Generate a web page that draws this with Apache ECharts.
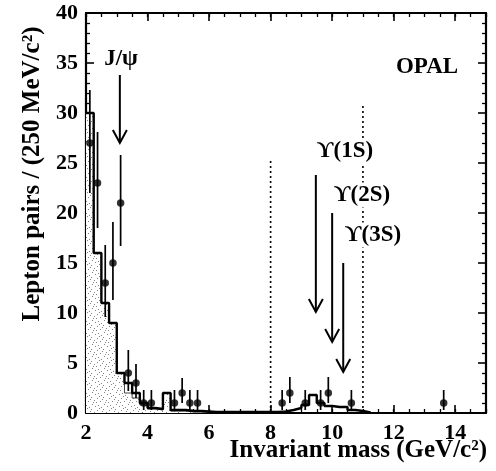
<!DOCTYPE html>
<html>
<head>
<meta charset="utf-8">
<script src="https://cdn.jsdelivr.net/npm/echarts@6/dist/echarts.min.js"></script>
<style>html,body{margin:0;padding:0;background:#fff;}#c{width:496px;height:471px;}</style>
</head>
<body>
<div id="c"></div>
<script>
// ---- data ----
const binWidth = 0.25;
const histStart = 2.0;
// open (thick line) histogram, bins of 250 MeV from 2.0 GeV
const openHist = [30,16,11,9,4,3,2,1,0.5,0.4,2,0.3,0.3,0.2,0.2,0.15,
  0.1,0.1,0.1,0.1,0.1,0.1,0.1,0.1,0.1,
  0.15,0.3,0.5,0.8,1.8,1.0,0.7,0.6,0.6,0.3,0.2,0.05];
// shaded (stippled) histogram, bins of 250 MeV from 2.0 GeV
const shadedHist = [30,16,11,9,4,2,1.5,0.8,0.4,0.3,2,0.2,0.2,0.1,0.1,0.1];
// data points
const ptX = [2.125,2.375,2.625,2.875,3.125,3.375,3.625,3.875,4.125,4.875,5.125,5.375,5.625,8.375,8.625,9.125,9.625,9.875,10.625,13.625];
const ptY = [27,23,13,15,21,4,3,1,1,1,2,1,1,1,2,1,1,2,1,1];
const errUp = [5.3,5.1,3.8,4.1,4.8,2.3,1.9,1.3,1.3,1.3,1.5,1.3,1.3,1.3,1.6,1.3,1.3,1.6,1.3,1.3];
const errDn = [5.0,4.5,3.4,3.7,4.3,1.8,1.5,0.7,0.7,0.7,1.0,0.7,0.7,0.7,1.0,0.7,0.7,1.0,0.7,0.7];
// resonance arrows
const arrowX = [3.1, 9.47, 10.0, 10.36];
const arrowTop = [33.8, 23.8, 20.0, 15.0];
const arrowTip = [27.0, 10.1, 7.1, 4.1];
// dotted window lines
const windowX = [8, 11];
const windowTop = [25.3, 30.8];
// axis ticks
const xTicks = {min: 2, max: 15, major: 2, minor: 0.5};
const yTicks = {min: 0, max: 40, major: 5, minorSplit: 5};

// ---- build ----
function stepData(vals) {
  const d = vals.map((v, i) => [histStart + i * binWidth, v]);
  d.push([histStart + vals.length * binWidth, vals[vals.length - 1]]);
  return d;
}
function stipple() {
  const c = document.createElement('canvas');
  c.width = 12; c.height = 12;
  const g = c.getContext('2d');
  g.fillStyle = '#ffffff'; g.fillRect(0, 0, 12, 12);
  g.fillStyle = 'rgba(80,80,80,0.7)';
  [[1,2],[7,1],[4,5],[10,4],[2,9],[8,8],[5,11],[11,10],[0,6],[6,3],[9,6],[3,0]]
    .forEach(p => g.fillRect(p[0], p[1], 1, 1));
  return c;
}
const FONT = '"Liberation Serif","DejaVu Serif",serif';
const chart = echarts.init(document.getElementById('c'), null, {renderer: 'canvas'});

const baseX = {type: 'value', min: xTicks.min, max: xTicks.max, splitLine: {show: false}, gridIndex: 0};
const baseY = {type: 'value', min: yTicks.min, max: yTicks.max, interval: yTicks.major, splitLine: {show: false}};
const frame = {show: true, lineStyle: {color: '#000', width: 2.2}};

chart.setOption({
  animation: false,
  backgroundColor: '#fff',
  grid: {left: 86, right: 10, top: 13, bottom: 58},
  xAxis: [
    Object.assign({}, baseX, {position: 'bottom', interval: xTicks.major, axisLine: frame,
      axisTick: {inside: true, length: 8, lineStyle: {color: '#000', width: 1.6}},
      axisLabel: {color: '#000', fontFamily: FONT, fontWeight: 'bold', fontSize: 22, margin: 9, showMaxLabel: false}}),
    Object.assign({}, baseX, {position: 'bottom', interval: xTicks.minor, axisLine: {show: false},
      axisTick: {inside: true, length: 4, lineStyle: {color: '#000', width: 1.3}}, axisLabel: {show: false}}),
    Object.assign({}, baseX, {position: 'top', interval: xTicks.major, axisLine: frame,
      axisTick: {inside: true, length: 8, lineStyle: {color: '#000', width: 1.6}}, axisLabel: {show: false}}),
    Object.assign({}, baseX, {position: 'top', interval: xTicks.minor, axisLine: {show: false},
      axisTick: {inside: true, length: 4, lineStyle: {color: '#000', width: 1.3}}, axisLabel: {show: false}})
  ],
  yAxis: [
    Object.assign({}, baseY, {position: 'left', axisLine: frame,
      axisTick: {inside: true, length: 8, lineStyle: {color: '#000', width: 1.6}},
      minorTick: {show: true, splitNumber: yTicks.minorSplit, length: 4, lineStyle: {color: '#000', width: 1.3}},
      axisLabel: {color: '#000', fontFamily: FONT, fontWeight: 'bold', fontSize: 22, margin: 8}}),
    Object.assign({}, baseY, {position: 'right', axisLine: frame,
      axisTick: {inside: true, length: 8, lineStyle: {color: '#000', width: 1.6}},
      minorTick: {show: true, splitNumber: yTicks.minorSplit, length: 4, lineStyle: {color: '#000', width: 1.3}},
      axisLabel: {show: false}})
  ],
  series: [
    {type: 'line', name: 'shaded', step: 'end', symbol: 'none', data: stepData(shadedHist), z: 1,
      lineStyle: {color: '#444', width: 1}, areaStyle: {color: {image: stipple(), repeat: 'repeat'}, opacity: 1}},
    {type: 'line', name: 'open', step: 'end', symbol: 'none', data: stepData(openHist), z: 2,
      lineStyle: {color: '#000', width: 2.4}},
    {type: 'custom', name: 'window', z: 3, data: windowX.map((x, i) => [x, windowTop[i]]),
      renderItem: (p, api) => {
        const a = api.coord([api.value(0), 0]), b = api.coord([api.value(0), api.value(1)]);
        return {type: 'line', shape: {x1: a[0], y1: a[1], x2: b[0], y2: b[1]},
          style: {stroke: '#000', lineWidth: 1.6, lineDash: [2, 3]}};
      }},
    {type: 'custom', name: 'errors', z: 4, data: ptX.map((x, i) => [x, ptY[i], errUp[i], errDn[i]]),
      renderItem: (p, api) => {
        const x = api.value(0), y = api.value(1);
        const a = api.coord([x, y + api.value(2)]), b = api.coord([x, Math.max(0, y - api.value(3))]);
        return {type: 'line', shape: {x1: a[0], y1: a[1], x2: b[0], y2: b[1]},
          style: {stroke: '#000', lineWidth: 1.7}};
      }},
    {type: 'scatter', name: 'data', z: 5, symbol: 'circle', symbolSize: 7.5,
      itemStyle: {color: '#000'}, data: ptX.map((x, i) => [x, ptY[i]])},
    {type: 'custom', name: 'arrows', z: 6, data: arrowX.map((x, i) => [x, arrowTop[i], arrowTip[i]]),
      renderItem: (p, api) => {
        const t = api.coord([api.value(0), api.value(1)]), s = api.coord([api.value(0), api.value(2)]);
        return {type: 'group', children: [
          {type: 'line', shape: {x1: t[0], y1: t[1], x2: s[0], y2: s[1]}, style: {stroke: '#000', lineWidth: 2}},
          {type: 'polyline', shape: {points: [[s[0] - 7, s[1] - 13], [s[0], s[1]], [s[0] + 7, s[1] - 13]]},
            style: {stroke: '#000', lineWidth: 2, fill: null}}
        ]};
      }}
  ],
  graphic: [
    {type: 'text', x: 487, y: 451, z: 10, style: {text: 'Invariant mass (GeV/c²)', font: 'bold 25px ' + FONT, align: 'right', verticalAlign: 'middle', fill: '#000'}},
    {type: 'text', x: 33, y: 174, rotation: Math.PI / 2, z: 10, style: {text: 'Lepton pairs / (250 MeV/c²)', font: 'bold 25px ' + FONT, align: 'center', verticalAlign: 'middle', fill: '#000'}},
    {type: 'text', x: 121, y: 59, z: 10, style: {text: 'J/ψ', font: 'bold 23px ' + FONT, align: 'center', verticalAlign: 'middle', fill: '#000'}},
    {type: 'text', x: 427, y: 67, z: 10, style: {text: 'OPAL', font: 'bold 23px ' + FONT, align: 'center', verticalAlign: 'middle', fill: '#000'}},
    {type: 'text', x: 345, y: 151, z: 10, style: {text: 'ϒ(1S)', font: 'bold 23px ' + FONT, align: 'center', verticalAlign: 'middle', fill: '#000', backgroundColor: '#fff', padding: [1, 2]}},
    {type: 'text', x: 362, y: 195, z: 10, style: {text: 'ϒ(2S)', font: 'bold 23px ' + FONT, align: 'center', verticalAlign: 'middle', fill: '#000', backgroundColor: '#fff', padding: [1, 2]}},
    {type: 'text', x: 373, y: 235, z: 10, style: {text: 'ϒ(3S)', font: 'bold 23px ' + FONT, align: 'center', verticalAlign: 'middle', fill: '#000', backgroundColor: '#fff', padding: [1, 2]}}
  ]
});
</script>
</body>
</html>
